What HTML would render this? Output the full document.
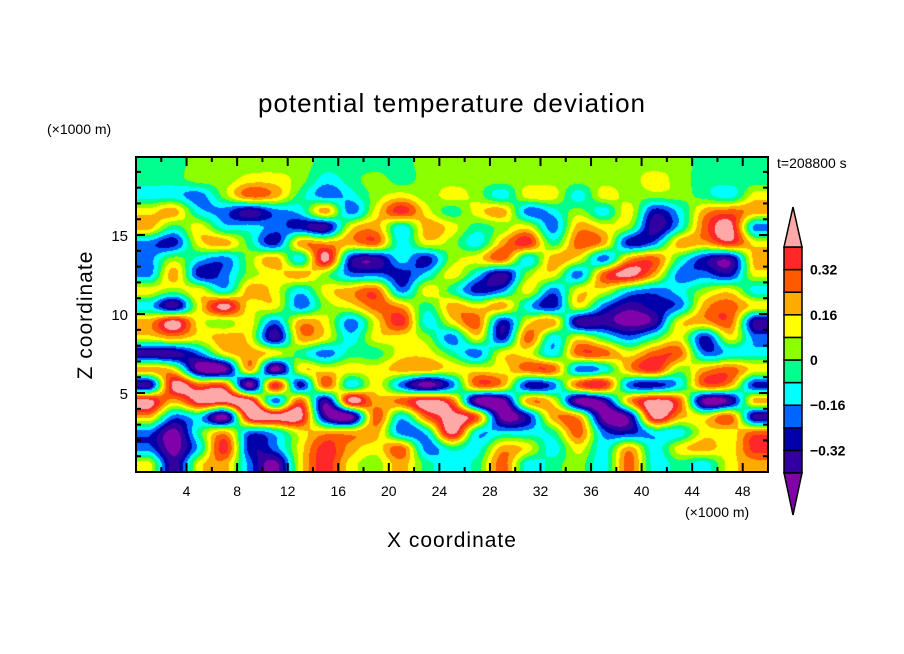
<!DOCTYPE html>
<html><head><meta charset="utf-8">
<style>
html,body{margin:0;padding:0;background:#fff;}
#wrap{position:relative;width:904px;height:654px;overflow:hidden;font-family:"Liberation Sans",sans-serif;}
svg text{font-family:"Liberation Sans",sans-serif;fill:#000;}
</style></head>
<body>
<div id="wrap">
<svg id="svg" width="904" height="654" xmlns="http://www.w3.org/2000/svg">
  <text x="452" y="112" font-size="26" text-anchor="middle" letter-spacing="1">potential temperature deviation</text>
  <text x="47" y="134" font-size="14">(×1000 m)</text>
  <text x="777" y="168" font-size="14">t=208800 s</text>
  <text x="685" y="517" font-size="14">(×1000 m)</text>
  <text x="452" y="547" font-size="21" text-anchor="middle" letter-spacing="1">X coordinate</text>
  <text transform="translate(92,315) rotate(-90)" font-size="21" text-anchor="middle" letter-spacing="1">Z coordinate</text>
  <foreignObject x="136" y="157" width="632" height="315">
    <canvas id="cv" width="632" height="315" xmlns="http://www.w3.org/1999/xhtml" style="display:block"></canvas>
  </foreignObject>
  <g id="axes"></g>
  <g id="cbar"></g>
</svg>
</div>
<script>
// data: codes per 2km x 1km cell (rows from z=19.5 down to z=0.5); value = (code+0.5)*0.08
const xCenters = [1,3,5,7,9,11,13,15,17,19,21,23,25,27,29,31,33,35,37,39,41,43,45,47,49];
const zCenters = [19.5,18.5,17.5,16.5,15.5,14.5,13.5,12.5,11.5,10.5,9.5,8.5,7.5,6.5,5.5,4.5,3.5,2.5,1.5,0.5];
const field = [
 [-1,-1,0,0,0,0,0,-1, -1,-1,-1,0,0,0,0,0,0, 0,0,0,0,0,-1,-1,-1],
 [-1,-1,0,0,1,1,0,-2, -1,0,-1,0,0,0,0,0,0, 0,0,0,1,0,-1,-1,-1],
 [-2,-2,-3,0,3,2,-1,-3, -2,0,1,0,1,0,-2,1,1, -2,1,0,0,0,-1,-2,1],
 [1,2,-2,-3,-5,-3,-2,2, -3,1,4,1,-1,1,2,-3,-2, 0,-2,1,-4,-2,2,3,2],
 [2,-1,1,-2,-2,-3,-4,-5, 1,2,-2,2,1,-1,0,1,-3, 2,1,0,-5,-2,3,5,-3],
 [-3,-4,1,2,-1,-4,2,2, 2,3,-2,1,0,-2,2,4,-1, 3,2,-4,-3,2,2,4,1],
 [-3,0,-2,-3,0,2,-2,5, -4,-5,-2,-4,0,1,3,-2,2, 1,-3,2,3,-1,-4,-5,2],
 [-3,2,-4,-3,0,1,2,0, -3,-3,-4,-2,1,-2,-5,0,1, -3,3,5,2,-3,-3,-4,1],
 [1,0,1,-2,2,1,-2,1, 2,3,-3,1,-1,-4,-3,1,-3, 1,1,-2,-3,-2,0,1,-2],
 [-2,-5,1,5,1,1,-3,0, 1,3,2,-1,2,1,2,-2,-4, 1,-3,-5,-4,-3,2,3,1],
 [2,5,1,0,1,-3,2,1, -3,1,4,-2,1,3,-4,1,2, -5,-5,-6,-5,1,2,3,-5],
 [1,2,1,2,1,-5,2,1, -2,1,1,0,-3,1,-4,3,-2, 1,-1,-3,-1,1,-4,1,-3],
 [-5,-5,-3,1,2,1,-1,-3, -1,-1,1,1,-1,-3,1,1,-2, 3,3,1,3,3,-3,-2,-2],
 [2,1,-6,-6,2,-6,1,1, 1,1,2,2,1,1,1,3,3, -3,-2,2,4,0,2,3,1],
 [-5,5,3,3,-6,4,-4,3, -2,1,-3,-6,-3,3,2,-4,-3, 3,4,-3,-4,-2,3,2,-4],
 [5,2,5,5,5,-3,3,-5, 5,2,3,5,3,-6,-6,2,1, -6,-5,2,5,3,-6,-5,2],
 [2,-3,-2,-6,5,5,5,-5, -6,3,-2,3,5,3,-6,-4,2, 2,-6,-5,5,2,1,3,-5],
 [-3,-6,-1,2,-3,-2,1,2, 2,2,-3,-2,5,-2,-2,-2,-1, 3,-3,-4,-2,-2,1,1,3],
 [-3,-6,-2,4,-4,-3,1,4, 2,1,3,-3,-1,-2,2,1,-2, 1,-2,2,-2,1,2,1,4],
 [1,-5,1,2,-3,-6,1,4, 1,0,2,-1,-2,-1,3,-2,-1, 0,-2,3,-2,-1,-2,1,2]
];
const levelLabels = ["0.32","0.16","0","-0.16","-0.32"];
const levelLabelValues = [0.32,0.16,0,-0.16,-0.32];
const xTickValues = [4,8,12,16,20,24,28,32,36,40,44,48];
const zTickValues = [5,10,15];

const colors = ["#8000aa","#3200a0","#0000aa","#0064ff","#00ffff","#00ff8c","#8cff00","#ffff00","#ffaa00","#ff5a00","#ff2828","#ffa8a8"];
const PX0=136, PX1=768, PY0=157, PY1=472, XMAX=50, ZMAX=19.94;
const xs = v => PX0 + v/XMAX*(PX1-PX0);
const zs = v => PY1 - v/ZMAX*(PY1-PY0);
const val = c => (c+0.5)*0.08;

// heatmap with bicubic (Catmull-Rom) interpolation, filled contour levels
(function(){
  const cv=document.getElementById('cv'); const ctx=cv.getContext('2d');
  const W=cv.width,H=cv.height; const img=ctx.createImageData(W,H);
  const rgb=colors.map(h=>[parseInt(h.substr(1,2),16),parseInt(h.substr(3,2),16),parseInt(h.substr(5,2),16)]);
  const nx=xCenters.length, nz=zCenters.length;
  const dx=xCenters[1]-xCenters[0], dz=zCenters[0]-zCenters[1];
  const g=(j,i)=>val(field[Math.max(0,Math.min(nz-1,j))][Math.max(0,Math.min(nx-1,i))]);
  const cr=(p0,p1,p2,p3,t)=>0.5*((2*p1)+(-p0+p2)*t+(2*p0-5*p1+4*p2-p3)*t*t+(-p0+3*p1-3*p2+p3)*t*t*t);
  for(let py=0;py<H;py++){
    const z=(H-py-0.5)/H*ZMAX;
    let fj=(zCenters[0]-z)/dz; fj=Math.max(0,Math.min(nz-1,fj));
    const j0=Math.min(Math.floor(fj),nz-2), tj=fj-j0;
    for(let px=0;px<W;px++){
      const x=(px+0.5)/W*XMAX;
      let fi=(x-xCenters[0])/dx; fi=Math.max(0,Math.min(nx-1,fi));
      const i0=Math.min(Math.floor(fi),nx-2), ti=fi-i0;
      const r=[];
      for(let m=-1;m<=2;m++) r.push(cr(g(j0+m,i0-1),g(j0+m,i0),g(j0+m,i0+1),g(j0+m,i0+2),ti));
      const v=cr(r[0],r[1],r[2],r[3],tj);
      let k=Math.floor(v/0.08)+6; k=Math.max(0,Math.min(11,k));
      const o=(py*W+px)*4; img.data[o]=rgb[k][0];img.data[o+1]=rgb[k][1];img.data[o+2]=rgb[k][2];img.data[o+3]=255;
    }
  }
  ctx.putImageData(img,0,0);
})();

const NS="http://www.w3.org/2000/svg";
function mk(tag,attrs,parent){const e=document.createElementNS(NS,tag);for(const k in attrs)e.setAttribute(k,attrs[k]);parent.appendChild(e);return e;}
const axes=document.getElementById('axes');
const fr=mk('rect',{x:PX0,y:PY0,width:PX1-PX0,height:PY1-PY0,fill:'none',stroke:'#000','stroke-width':2},axes);


for(let v=2;v<XMAX;v+=2){
  const major=v%4===0, len=major?9:5, x=xs(v);
  const t1=mk('line',{x1:x,x2:x,y1:PY1,y2:PY1-len,stroke:'#000','stroke-width':2},axes);
  
  
  const t2=mk('line',{x1:x,x2:x,y1:PY0,y2:PY0+len,stroke:'#000','stroke-width':2},axes);
  
  
}
xTickValues.forEach(v=>{
  const t=mk('text',{x:xs(v),y:PY1+24,'font-size':14,'text-anchor':'middle'},axes);
  t.textContent=String(v);
  
  
});
for(let v=1;v<20;v++){
  const major=v%5===0, len=major?9:5, y=zs(v);
  const t1=mk('line',{x1:PX0,x2:PX0+len,y1:y,y2:y,stroke:'#000','stroke-width':2},axes);
  
  
  const t2=mk('line',{x1:PX1,x2:PX1-len,y1:y,y2:y,stroke:'#000','stroke-width':2},axes);
  
  
}
zTickValues.forEach(v=>{
  const t=mk('text',{x:PX0-8,y:zs(v)+6,'font-size':15,'text-anchor':'end'},axes);
  t.textContent=String(v);
  
  
});
const cb=document.getElementById('cbar');
const CX0=784,CX1=802,CTOP=247,BOX=22.6,CTIP=207,CBOT=515;
const cy = v => CTOP + (0.40 - v)/0.08*BOX;
for(let k=1;k<=10;k++){
  const lo=(k-6)*0.08;
  const r=mk('rect',{x:CX0,y:cy(lo+0.08),width:CX1-CX0,height:BOX,fill:colors[k],stroke:'#000','stroke-width':1.5},cb);
  
  
}
const up=mk('polygon',{points:`${CX0},${CTOP} ${CX1},${CTOP} ${(CX0+CX1)/2},${CTIP}`,fill:colors[11],stroke:'#000','stroke-width':1.5},cb);


const dn=mk('polygon',{points:`${CX0},${cy(-0.40)} ${CX1},${cy(-0.40)} ${(CX0+CX1)/2},${CBOT}`,fill:colors[0],stroke:'#000','stroke-width':1.5},cb);


levelLabelValues.forEach((v,i)=>{
  const t=mk('text',{x:810,y:cy(v)+5,'font-size':14,'font-weight':'bold'},cb);
  t.textContent=levelLabels[i].replace('-','\u2212');
  
  
});
</script>
</body></html>
